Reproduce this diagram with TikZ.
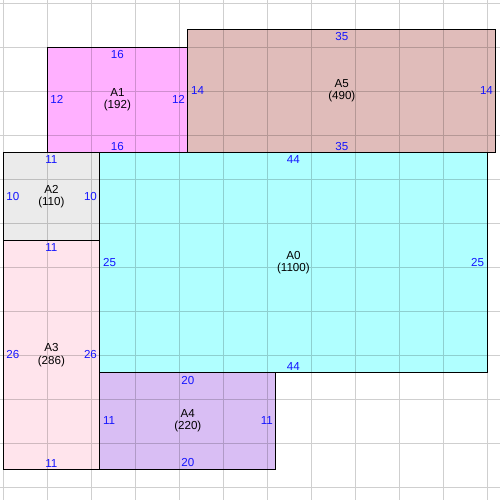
\documentclass[tikz,border=0pt]{standalone}
\usepackage{fontspec}
\setmainfont{Liberation Sans}
\definecolor{cA0}{RGB}{176,255,255}
\definecolor{cA1}{RGB}{255,176,255}
\definecolor{cA2}{RGB}{235,235,235}
\definecolor{cA3}{RGB}{255,228,236}
\definecolor{cA4}{RGB}{217,190,244}
\definecolor{cA5}{RGB}{224,188,186}
\definecolor{lenblue}{RGB}{20,20,255}
\begin{document}
\begin{tikzpicture}[x=0.176cm,y=-0.176cm,
  box/.style n args={3}{draw=none, fill=#3, inner sep=0pt, outer sep=0pt, anchor=north west,
     minimum width=#1*0.176cm, minimum height=#2*0.176cm},
  nm/.style={font=\fontsize{6.6}{7}\selectfont, align=center, text=black, inner sep=0pt},
  len/.style={font=\fontsize{6.6}{7}\selectfont, text=lenblue, inner sep=0pt},
  gridline/.style={draw=black, draw opacity=0.19, line width=0.02cm},
  edge/.style={draw=black, line width=0.02cm}]
\useasboundingbox (-0.3409,-0.3409) rectangle (56.4773,56.4773);
\fill[white] (-0.3409,-0.3409) rectangle (56.4773,56.4773);
% area fills
\node[box={16}{12}{cA1}] (A1) at (5,5) {};
\node[box={35}{14}{cA5}] (A5) at (21,3) {};
\node[box={11}{10}{cA2}] (A2) at (0,17) {};
\node[box={11}{26}{cA3}] (A3) at (0,27) {};
\node[box={44}{25}{cA0}] (A0) at (11,17) {};
\node[box={20}{11}{cA4}] (A4) at (11,42) {};
% grid
\draw[gridline] \foreach \i in {0,5,...,55} {(\i,-1) -- (\i,58) (-1,\i) -- (58,\i)};
% borders and labels
\foreach \n/\w/\h/\a in {A0/44/25/1100, A1/16/12/192, A2/11/10/110, A3/11/26/286, A4/20/11/220, A5/35/14/490}{
  \draw[edge] (\n.north west) rectangle (\n.south east);
  \node[nm] (\n-c) at (\n.center) {\n\\(\a)};
  \node[len, anchor=north] (\n-t) at ([yshift=-0.06cm]\n.north) {\w};
  \node[len, anchor=west] (\n-l) at ([xshift=0.06cm]\n.west) {\h};
  \node[len, anchor=east] (\n-r) at ([xshift=-0.05cm]\n.east) {\h};
}
\foreach \n/\w in {A0/44, A1/16, A3/11, A4/20, A5/35}{
  \node[len, anchor=south] (\n-b) at ([yshift=0.04cm]\n.south) {\w};
}
\end{tikzpicture}
\end{document}
